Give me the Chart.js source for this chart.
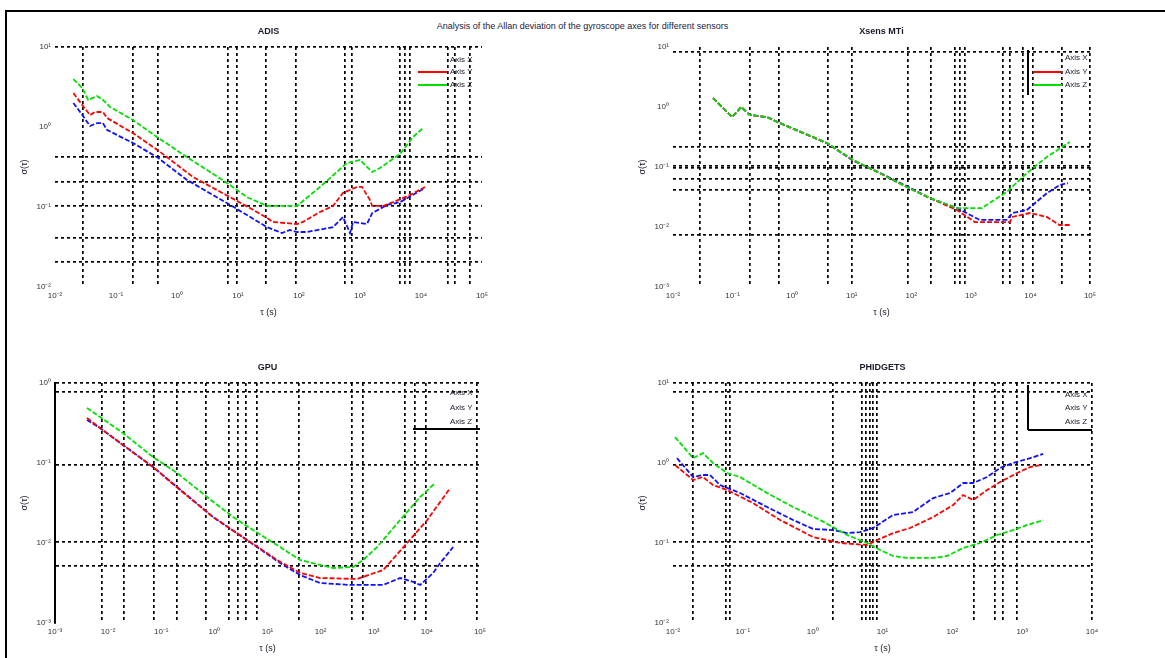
<!DOCTYPE html>
<html>
<head>
<meta charset="utf-8">
<script src="https://cdn.jsdelivr.net/npm/chart.js"></script>
<style>
  body { margin: 0; background: #fff; width: 1165px; height: 658px; overflow: hidden; position: relative; font-family: "Liberation Sans", Arial, sans-serif; }
  #frame { position: absolute; left: 5px; top: 10px; width: 1170px; height: 660px; border-top: 2px solid #000; border-left: 2px solid #000; }
  #title { position: absolute; left: 0; width: 1165px; top: 21px; text-align: center; font-size: 9px; color: #1a1a3a; }
  .cell { position: absolute; }
</style>
</head>
<body>
<div id="frame"></div>
<div id="title">Analysis of the Allan deviation of the gyroscope axes for different sensors</div>
<div class="cell" style="left:0;top:0"><canvas id="c0" width="580" height="330"></canvas></div>
<div class="cell" style="left:580px;top:0"><canvas id="c1" width="585" height="330"></canvas></div>
<div class="cell" style="left:0;top:330px"><canvas id="c2" width="580" height="328"></canvas></div>
<div class="cell" style="left:580px;top:330px"><canvas id="c3" width="585" height="328"></canvas></div>
<script>
// series names and colours
const seriesNames = ['Axis X', 'Axis Y', 'Axis Z'];
const seriesColors = ['#1010ff', '#ff0000', '#00e000'];

// ADIS : [tau (s), sigma]
const adisX = [[0.02,2.0],[0.028,1.41],[0.0375,1.03],[0.049,1.12],[0.061,1.12],[0.071,0.92],[0.19,0.63],[0.47,0.42],[1.46,0.218],[6.6,0.112],[29.9,0.056],[52.5,0.0473],[71,0.0516],[92.7,0.0487],[135,0.0487],[361,0.056],[526,0.075],[686,0.0473],[768,0.065],[1303,0.0613],[1585,0.084],[2773,0.106],[4529,0.115],[11640,0.173]];
const adisY = [[0.02,2.66],[0.028,1.88],[0.0375,1.41],[0.045,1.54],[0.061,1.54],[0.071,1.30],[0.19,0.84],[0.53,0.487],[1.83,0.237],[7.4,0.133],[15.7,0.097],[29.9,0.073],[37.5,0.065],[92.7,0.0613],[116,0.065],[221,0.0866],[361,0.103],[526,0.15],[893,0.178],[1079,0.178],[1459,0.122],[1585,0.103],[2383,0.103],[3475,0.115],[6607,0.141],[11640,0.178]];
const adisZ = [[0.02,3.98],[0.028,3.07],[0.035,2.18],[0.049,2.44],[0.061,2.18],[0.08,1.78],[0.19,1.22],[0.47,0.75],[1.46,0.42],[6.6,0.2],[14,0.133],[29.9,0.103],[92.7,0.103],[221,0.178],[612,0.355],[1000,0.387],[1585,0.274],[2128,0.307],[4529,0.46],[7400,0.75],[10790,0.97]];

// Xsens MTi
const xsensX = [[0.047,1.41],[0.098,0.68],[0.14,1.0],[0.195,0.735],[0.378,0.68],[0.62,0.54],[3.84,0.25],[10.5,0.128],[29.5,0.08],[84,0.048],[204,0.0304],[582,0.0207],[1413,0.0131],[3980,0.0131],[5000,0.0171],[8700,0.0192],[18840,0.0366],[30900,0.05],[42700,0.054]];
const xsensY = [[0.047,1.41],[0.098,0.68],[0.14,1.0],[0.195,0.735],[0.378,0.68],[0.62,0.54],[3.84,0.25],[10.5,0.131],[29.5,0.079],[84,0.0464],[204,0.0304],[582,0.0192],[1167,0.0121],[2090,0.0121],[4510,0.0121],[5000,0.0147],[9800,0.0171],[18840,0.0147],[30900,0.0108],[45700,0.0108]];
const xsensZ = [[0.047,1.41],[0.098,0.68],[0.14,1.0],[0.195,0.735],[0.378,0.68],[0.62,0.54],[3.84,0.25],[10.5,0.131],[29.5,0.079],[84,0.0464],[204,0.0304],[582,0.0207],[1528,0.0207],[3980,0.0383],[8700,0.079],[18840,0.147],[45700,0.261]];

// GPU
const gpuX = [[0.004,0.345],[0.00703,0.274],[0.019,0.168],[0.07,0.0891],[0.199,0.0501],[0.944,0.0211],[4.13,0.0109],[17.3,0.00562],[41.1,0.00398],[98,0.00316],[360,0.00299],[751,0.00299],[1503,0.00299],[3140,0.00365],[5520,0.00326],[7480,0.00299],[13150,0.00422],[17800,0.00562],[31260,0.0089]];
const gpuY = [[0.004,0.365],[0.00703,0.274],[0.019,0.168],[0.07,0.0891],[0.226,0.046],[0.944,0.0211],[4.13,0.0109],[15.2,0.00613],[41.1,0.00422],[98,0.00365],[487,0.00355],[1503,0.0046],[4256,0.01],[10140,0.0194],[27500,0.0487]];
const gpuZ = [[0.004,0.487],[0.00703,0.376],[0.019,0.237],[0.07,0.119],[0.199,0.075],[0.728,0.0376],[2.25,0.0211],[5.35,0.0145],[17.3,0.0089],[41.1,0.00613],[98,0.00531],[172,0.00487],[409,0.00501],[631,0.00613],[1159,0.0089],[3140,0.0194],[7480,0.0376],[14330,0.0562]];

// PHIDGETS
const phX = [[0.0114,1.15],[0.0194,0.668],[0.0269,0.708],[0.0339,0.708],[0.0471,0.531],[0.0912,0.422],[0.222,0.282],[0.524,0.194],[1.01,0.15],[1.96,0.145],[3.11,0.133],[4.78,0.137],[7.33,0.154],[14.2,0.224],[27.4,0.244],[53.1,0.365],[93,0.422],[143,0.562],[199,0.562],[315,0.668],[484,0.866],[743,1.0],[1303,1.15],[2000,1.30]];
const phY = [[0.0107,0.944],[0.0194,0.613],[0.0269,0.668],[0.0374,0.531],[0.0594,0.46],[0.14,0.316],[0.341,0.194],[1.01,0.119],[2.47,0.1],[6.01,0.0944],[8.37,0.109],[14.2,0.133],[24.8,0.154],[53.1,0.211],[103,0.299],[143,0.398],[199,0.345],[315,0.46],[484,0.579],[848,0.75],[1303,0.891],[1811,0.944]];
const phZ = [[0.0107,2.11],[0.0194,1.15],[0.0269,1.33],[0.0374,1.0],[0.0594,0.75],[0.0912,0.668],[0.222,0.422],[0.524,0.282],[1.28,0.194],[3.11,0.126],[6.01,0.1],[9.25,0.0818],[14.2,0.0688],[22.5,0.065],[53.1,0.065],[84.3,0.0688],[143,0.0866],[250,0.1],[439,0.126],[743,0.145],[1180,0.168],[1811,0.188],[2000,0.194]];

// decade tick labels (exponents) and grid line values
const adisDecX = [-2,-1,0,1,2,3,4,5], adisDecY = [-2,-1,0,1];
const xsensDecX = [-2,-1,0,1,2,3,4,5], xsensDecY = [-3,-2,-1,0,1];
const gpuDecX = [-3,-2,-1,0,1,2,3,4,5], gpuDecY = [-3,-2,-1,0];
const phDecX = [-2,-1,0,1,2,3,4], phDecY = [-2,-1,0,1];

const adisGridX = [0.029,0.19,0.49,6.9,9.6,28.8,89,568,740,4530,5470,6600,27700,36100,63500];
const adisGridY = [0.0205,0.041,0.103,0.205,0.42,10];
const xsensGridX = [0.0284,0.196,0.6,3.98,10.1,87.7,213,539,653,793,3444,4510,7450,10960,33650,100000];
const xsensGridY = [0.00736,0.0414,0.063,0.096,0.104,0.215,8.25];
const gpuGridX = [0.00767,0.0199,0.0731,0.199,0.698,1.89,2.79,3.95,6.37,39.4,392,631,3900,6030,9700,88500];
const gpuGridY = [0.00516,0.0103,0.0944,0.772,1];
const phGridX = [0.0194,0.0574,0.0656,1.96,5.1,5.82,6.64,7.33,8.37,205,410,534,848,10000];
const phGridY = [0.0516,0.103,0.944,7.72,10];

Chart.defaults.font.family = '"Liberation Sans", Arial, sans-serif';
Chart.defaults.font.size = 8;
Chart.defaults.color = '#333';

const SUP = {'-': '⁻', '0': '⁰', '1': '¹', '2': '²', '3': '³', '4': '⁴', '5': '⁵', '6': '⁶', '7': '⁷', '8': '⁸', '9': '⁹'};
function sup(e) {
  return '10' + String(e).split('').map(c => SUP[c]).join('');
}

// decade ticks carry labels, grid values carry the dotted lines
function makeTicks(decades, grid) {
  const m = new Map();
  decades.forEach(e => {
    const v = Math.pow(10, e);
    m.set(v, { value: v, txt: sup(e), g: false });
  });
  grid.forEach(v => {
    const t = m.get(v);
    if (t) t.g = true;
    else m.set(v, { value: v, txt: '', g: true });
  });
  return [...m.values()].sort((a, b) => a.value - b.value);
}

// titles, axis names and the small legend inside each panel
const panelText = {
  id: 'panelText',
  afterDraw(chart, args, o) {
    const ctx = chart.ctx, a = chart.chartArea;
    const cx = (a.left + a.right) / 2;
    ctx.save();
    ctx.fillStyle = '#1a1a2a';
    ctx.textAlign = 'center';
    ctx.textBaseline = 'middle';
    ctx.font = 'bold 9px "Liberation Sans", Arial, sans-serif';
    ctx.fillText(o.title, cx, a.top - 15);
    ctx.font = '9px "Liberation Sans", Arial, sans-serif';
    ctx.fillText('τ (s)', cx, a.bottom + 26);
    ctx.save();
    ctx.translate(a.left - 30, (a.top + a.bottom) / 2);
    ctx.rotate(-Math.PI / 2);
    ctx.fillText('σ(τ)', 0, 0);
    ctx.restore();

    const L = o.legend;
    ctx.font = '8px "Liberation Sans", Arial, sans-serif';
    ctx.textAlign = 'left';
    chart.data.datasets.forEach((ds, i) => {
      const y = a.top + L.rows[i];
      if (L.lines[i]) {
        ctx.strokeStyle = ds.borderColor;
        ctx.lineWidth = 2;
        ctx.beginPath();
        ctx.moveTo(a.right + L.x0, y);
        ctx.lineTo(a.right + L.x1, y);
        ctx.stroke();
      }
      ctx.fillText(ds.label, a.right + L.tx, y);
    });
    ctx.strokeStyle = '#000';
    ctx.lineWidth = 2;
    L.frame.forEach(s => {
      ctx.beginPath();
      ctx.moveTo(a.right + s[0], a.top + s[1]);
      ctx.lineTo(a.right + s[2], a.top + s[3]);
      ctx.stroke();
    });
    ctx.restore();
  }
};

const yW = 40, xH = 20;

function panel(id, p) {
  const cv = document.getElementById(id);
  const W = cv.width, H = cv.height;
  const gridColor = c => (c.tick && c.tick.g) ? '#000' : 'rgba(0,0,0,0)';
  const xTicks = makeTicks(p.decX, p.gridX);
  const yTicks = makeTicks(p.decY, p.gridY);
  const series = [p.x, p.y, p.z];
  return new Chart(cv, {
    type: 'line',
    data: {
      datasets: series.map((s, i) => ({
        label: seriesNames[i],
        data: s.map(d => ({ x: d[0], y: d[1] })),
        borderColor: seriesColors[i],
        borderWidth: 1.8,
        borderDash: [5, 2],
        pointRadius: 0,
        tension: 0,
        fill: false,
        order: 3 - i
      }))
    },
    options: {
      responsive: false,
      animation: false,
      events: [],
      layout: {
        padding: {
          left: p.area[0] - yW,
          right: W - p.area[1],
          top: p.area[2],
          bottom: H - p.area[3] - xH
        }
      },
      plugins: {
        legend: { display: false },
        tooltip: { enabled: false },
        panelText: { title: p.title, legend: p.legend }
      },
      scales: {
        x: {
          type: 'logarithmic',
          min: Math.pow(10, p.decX[0]),
          max: Math.pow(10, p.decX[p.decX.length - 1]),
          afterBuildTicks: s => { s.ticks = xTicks.map(t => ({ ...t })); },
          afterFit: s => { s.height = xH; s.paddingLeft = 0; s.paddingRight = 0; },
          ticks: { autoSkip: false, maxRotation: 0, minRotation: 0, padding: 4, callback: (v, i, t) => t[i].txt },
          grid: { color: gridColor, lineWidth: 1.7, drawTicks: false },
          border: { display: false, dash: [3, 3] }
        },
        y: {
          type: 'logarithmic',
          min: Math.pow(10, p.decY[0]),
          max: Math.pow(10, p.decY[p.decY.length - 1]),
          afterBuildTicks: s => { s.ticks = yTicks.map(t => ({ ...t })); },
          afterFit: s => { s.width = yW; s.paddingTop = 0; s.paddingBottom = 0; },
          ticks: { autoSkip: false, padding: 4, callback: (v, i, t) => t[i].txt },
          grid: { color: gridColor, lineWidth: 1.7, drawTicks: false },
          border: { display: !!p.yAxisLine, color: '#000', width: 2, dash: [3, 3] }
        }
      }
    },
    plugins: [panelText]
  });
}

panel('c0', {
  title: 'ADIS', x: adisX, y: adisY, z: adisZ,
  decX: adisDecX, decY: adisDecY, gridX: adisGridX, gridY: adisGridY,
  area: [55, 482, 47, 287],
  legend: { rows: [13, 25, 38], lines: [false, true, true], x0: -64, x1: -35, tx: -32, frame: [] }
});
panel('c1', {
  title: 'Xsens MTi', x: xsensX, y: xsensY, z: xsensZ,
  decX: xsensDecX, decY: xsensDecY, gridX: xsensGridX, gridY: xsensGridY,
  area: [93, 510, 47, 287],
  legend: { rows: [11, 25, 38], lines: [false, true, true], x0: -57, x1: -28, tx: -25, frame: [[-62, 3, -62, 48]] }
});
panel('c2', {
  title: 'GPU', x: gpuX, y: gpuY, z: gpuZ,
  decX: gpuDecX, decY: gpuDecY, gridX: gpuGridX, gridY: gpuGridY,
  area: [55, 480, 53, 293], yAxisLine: true,
  legend: { rows: [10, 25, 39], lines: [false, false, false], x0: 0, x1: 0, tx: -30, frame: [[-67, 46, 0, 46]] }
});
panel('c3', {
  title: 'PHIDGETS', x: phX, y: phY, z: phZ,
  decX: phDecX, decY: phDecY, gridX: phGridX, gridY: phGridY,
  area: [93, 512, 53, 293],
  legend: { rows: [12, 25, 39], lines: [false, false, false], x0: 0, x1: 0, tx: -27, frame: [[-64, 2, -64, 47], [-64, 47, 0, 47]] }
});
</script>
</body>
</html>
